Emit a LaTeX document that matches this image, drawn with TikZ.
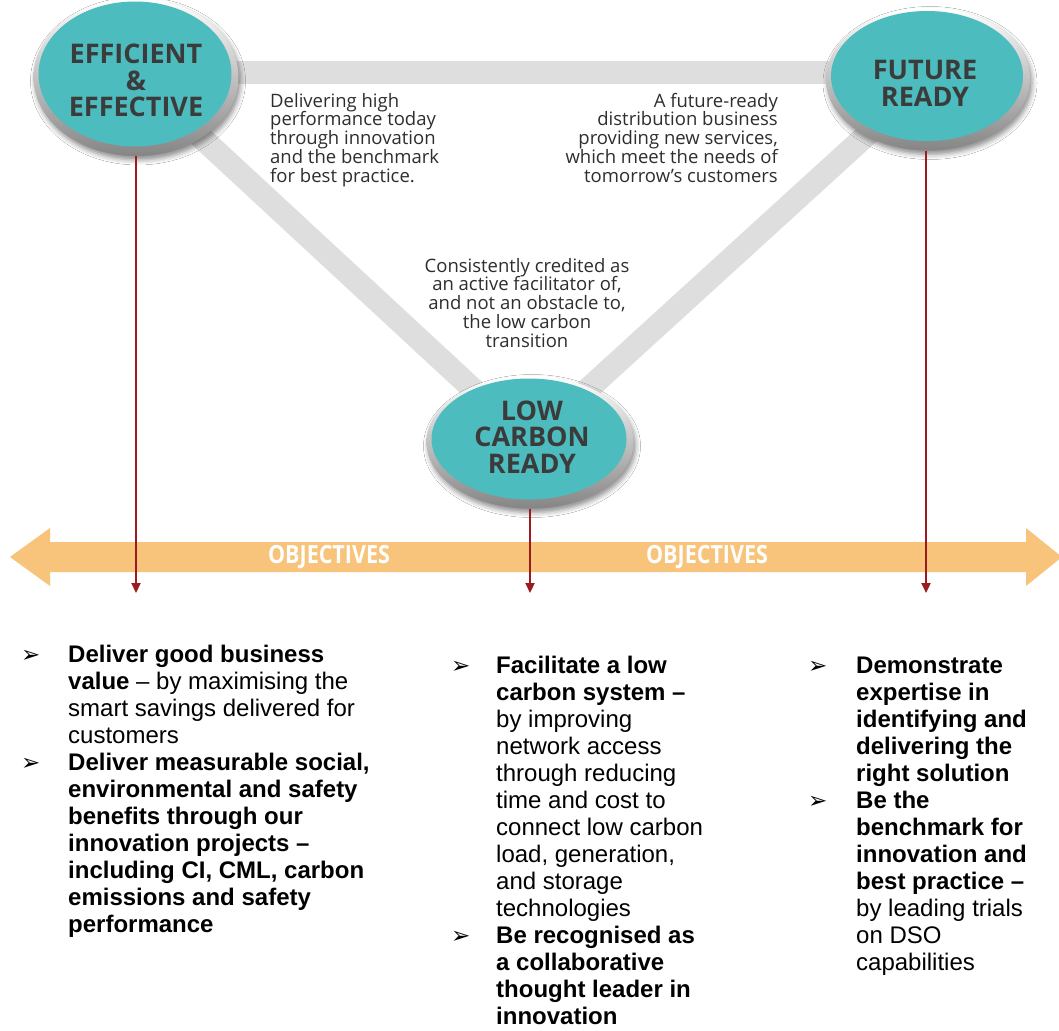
\documentclass[tikz,border=0pt]{standalone}
\usepackage{fontspec}
\setmainfont{Open Sans}
\newfontfamily\bodyf{Liberation Sans}
\newfontfamily\symf{DejaVu Sans}
\newfontfamily\condf{Open Sans}[FakeStretch=0.86]
\usetikzlibrary{shapes.geometric, arrows.meta, shadows.blur}

\definecolor{tealfill}{HTML}{4CBCBF}
\definecolor{rimgray}{HTML}{858585}
\definecolor{bandgray}{HTML}{DEDEDE}
\definecolor{objorange}{HTML}{F8C47C}
\definecolor{linkred}{HTML}{9B1B1E}
\definecolor{headtext}{HTML}{3B3B3B}
\definecolor{desctext}{HTML}{2E2E2E}

% text blocks whose base line is the base line of their first line
\newcommand\leftblock[2]{\vtop{\hsize=#1\parindent=0pt\raggedright #2\par}}
\newcommand\rightblock[2]{\vtop{\hsize=#1\parindent=0pt\raggedleft #2\par}}
\newcommand\midblock[2]{\vtop{\hsize=#1\parindent=0pt\centering #2\par}}

\tikzset{
  rim/.style={ellipse, inner sep=0pt, shade, top color=white, bottom color=rimgray,
    blur shadow={shadow xshift=2pt, shadow yshift=-4pt, shadow blur radius=5pt, shadow opacity=45}},
  disc/.style={ellipse, inner sep=0pt, fill=tealfill},
  headlabel/.style={inner sep=0pt, anchor=base, text=headtext,
    font=\fontsize{27}{26.5}\selectfont\bfseries},
  desc/.style={inner sep=0pt, text=desctext, font=\fontsize{18.5}{18.8}\selectfont},
  band/.style={draw=bandgray, line width=23pt},
  linkarrow/.style={draw=linkred, line width=2.2pt,
    -{Triangle[width=9pt,length=10pt]}},
  objlabel/.style={inner sep=0pt, text=white, font=\condf\fontsize{25}{25}\selectfont\bfseries},
  goal/.style={inner sep=0pt, anchor=base west, font=\bodyf\fontsize{24}{27}\selectfont},
  tick/.style={inner sep=0pt, anchor=base west, font=\symf\fontsize{23}{23}\selectfont},
}

\begin{document}
\begin{tikzpicture}[x=1pt, y=-1pt]
\useasboundingbox[fill=white] (0,0) rectangle (1059,1030);

% centres of the three discs
\coordinate (effc) at (136,77);
\coordinate (futc) at (928,79);
\coordinate (lowc) at (530,442);
\coordinate (topl) at (136,73);
\coordinate (topr) at (928,73);

% grey triangle joining the discs
\draw[band] (topl) -- (topr);
\draw[band] (effc) -- (lowc);
\draw[band] (futc) -- (lowc);

% objectives double arrow
\fill[objorange] (10,557) -- (50,528) -- (50,542) -- (1026,542) -- (1026,528)
  -- (1062,557) -- (1026,586) -- (1026,572) -- (50,572) -- (50,586) -- cycle;
\node[objlabel] (obj1) at (329,557) {OBJECTIVES};
\node[objlabel] (obj2) at (707,557) {OBJECTIVES};

% discs
\node[rim, minimum width=205, minimum height=158] (eff) at (effc) {};
\node[disc, minimum width=193, minimum height=145, xshift=-1pt, yshift=3pt] (effd) at (effc) {};
\node[rim, minimum width=204, minimum height=143] (fut) at (futc) {};
\node[disc, minimum width=192, minimum height=130, xshift=-1pt, yshift=3pt] (futd) at (futc) {};
\node[rim, minimum width=207, minimum height=133] (low) at (lowc) {};
\node[disc, minimum width=195, minimum height=121, xshift=-1pt, yshift=3pt] (lowd) at (lowc) {};

\node[headlabel] (efft) at (136,64) {\midblock{220pt}{EFFICIENT\\\&\\EFFECTIVE}};
\node[headlabel] (futt) at (925,80) {\midblock{220pt}{FUTURE\\READY}};
\node[headlabel] (lowt) at (532,420) {\midblock{220pt}{LOW\\CARBON\\READY}};

% descriptions
\node[desc, anchor=base west] (d1) at (270,107) {\leftblock{260pt}{Delivering high\\performance today\\through innovation\\and the benchmark\\for best practice.}};
\node[desc, anchor=base east] (d2) at (778,107) {\rightblock{260pt}{A future-ready\\distribution business\\providing new services,\\which meet the needs of\\tomorrow’s customers}};
\node[desc, anchor=base] (d3) at (527,272) {\midblock{260pt}{Consistently credited as\\an active facilitator of,\\and not an obstacle to,\\the low carbon\\transition}};

% links down to the objectives
\coordinate (e1) at (136,593);
\coordinate (e2) at (530,593);
\coordinate (e3) at (926,593);
\draw[linkarrow] (eff.south) -- (e1);
\draw[linkarrow] (low.south) -- (e2);
\draw[linkarrow] ([xshift=-2pt]fut.south) -- (e3);

% objectives, first column
\node[tick] (b11) at (21,662) {➢};
\node[goal] (g11) at (68,662) {\leftblock{360pt}{\textbf{Deliver good business}\\\textbf{value} – by maximising the\\smart savings delivered for\\customers}};
\node[tick] (b12) at (21,770) {➢};
\node[goal] (g12) at (68,770) {\leftblock{360pt}{\textbf{Deliver measurable social,}\\\textbf{environmental and safety}\\\textbf{benefits through our}\\\textbf{innovation projects –}\\\textbf{including CI, CML, carbon}\\\textbf{emissions and safety}\\\textbf{performance}}};

% second column
\node[tick] (b21) at (451,673) {➢};
\node[goal] (g21) at (496,673) {\leftblock{260pt}{\textbf{Facilitate a low}\\\textbf{carbon system –}\\by improving\\network access\\through reducing\\time and cost to\\connect low carbon\\load, generation,\\and storage\\technologies}};
\node[tick] (b22) at (451,943) {➢};
\node[goal] (g22) at (496,943) {\leftblock{260pt}{\textbf{Be recognised as}\\\textbf{a collaborative}\\\textbf{thought leader in}\\\textbf{innovation}}};

% third column
\node[tick] (b31) at (808,673) {➢};
\node[goal] (g31) at (856,673) {\leftblock{200pt}{\textbf{Demonstrate}\\\textbf{expertise in}\\\textbf{identifying and}\\\textbf{delivering the}\\\textbf{right solution}}};
\node[tick] (b32) at (808,808) {➢};
\node[goal] (g32) at (856,808) {\leftblock{200pt}{\textbf{Be the}\\\textbf{benchmark for}\\\textbf{innovation and}\\\textbf{best practice –}\\by leading trials\\on DSO\\capabilities}};
\end{tikzpicture}
\end{document}
